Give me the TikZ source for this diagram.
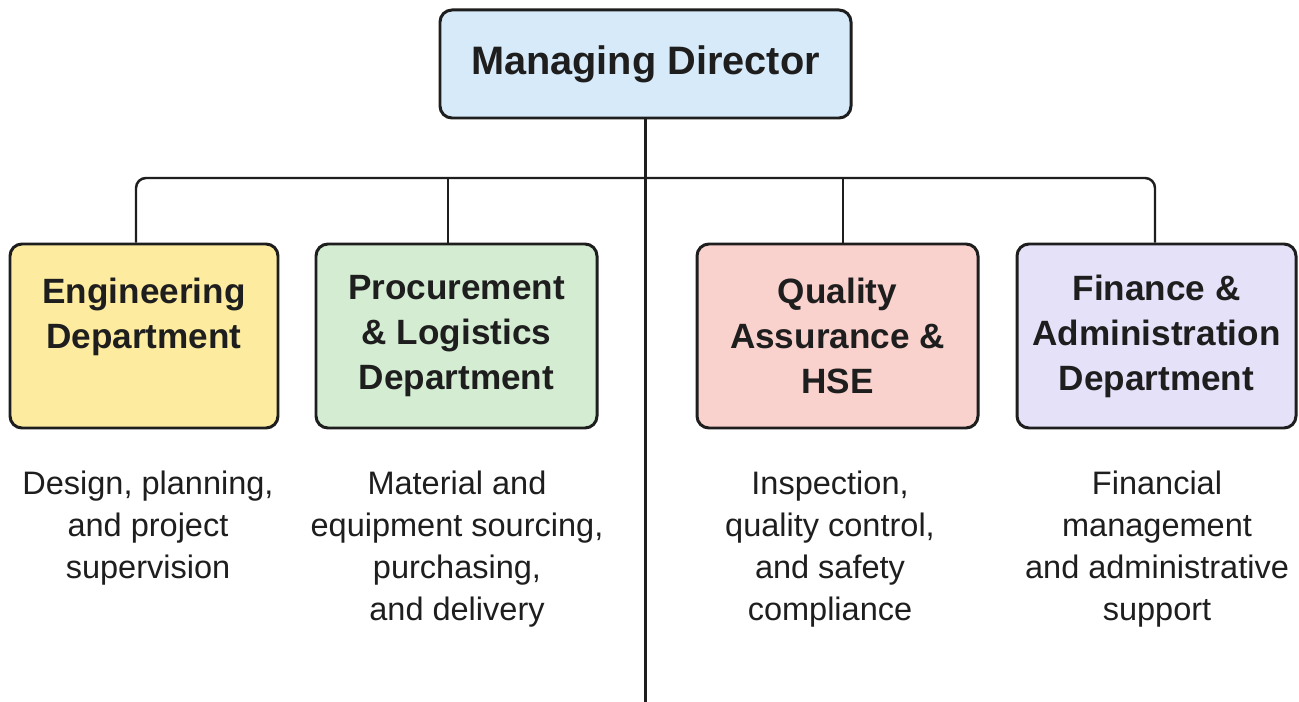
\documentclass[tikz,border=0pt]{standalone}
\usepackage{xcolor}
\usepackage{fontspec}
\setmainfont{Liberation Sans}
\definecolor{mdblue}{HTML}{D7EAF9}
\definecolor{engyellow}{HTML}{FDECA0}
\definecolor{procgreen}{HTML}{D4EDD2}
\definecolor{qapink}{HTML}{F9D1CD}
\definecolor{finlilac}{HTML}{E5E1F8}
\definecolor{ink}{HTML}{1E1E1E}
\begin{document}
\begin{tikzpicture}[
	box/.style={draw=ink, line width=0.85pt, rounded corners=0.12cm, align=center,
		minimum height=1.84cm, inner sep=0pt, text=ink,
		font=\bfseries\fontsize{10}{12.8}\selectfont},
	desc/.style={align=center, anchor=north, inner sep=0pt, text=ink,
		font=\fontsize{9.25}{11.95}\selectfont},
	link/.style={draw=ink, line width=0.7pt}]
	\useasboundingbox (0,0) rectangle (12.99,-7.02);
	\fill[white] (0,0) rectangle (12.99,-7.02);
	%%% top
	\node[box, fill=mdblue, minimum width=4.11cm, minimum height=1.08cm,
		font=\bfseries\fontsize{11.3}{13}\selectfont] (md) at (6.455,-0.64) {Managing Director};
	%%% departments
	\node[box, fill=engyellow, minimum width=2.68cm] (eng) at (1.44,-3.36) {Engineering\\Department\\\phantom{D}};
	\node[box, fill=procgreen, minimum width=2.81cm] (proc) at (4.565,-3.36) {Procurement\\\& Logistics\\Department};
	\node[box, fill=qapink, minimum width=2.81cm] (qa) at (8.375,-3.36) {Quality\\Assurance \&\\HSE};
	\node[box, fill=finlilac, minimum width=2.79cm] (fin) at (11.565,-3.36) {Finance \&\\Administration\\Department};
	%%% what each one does
	\node[desc] (engtxt) at (1.48,-4.70) {Design, planning,\\and project\\supervision};
	\node[desc] (proctxt) at (4.57,-4.70) {Material and\\equipment sourcing,\\purchasing,\\and delivery};
	\node[desc] (qatxt) at (8.30,-4.70) {Inspection,\\quality control,\\and safety\\compliance};
	\node[desc] (fintxt) at (11.57,-4.70) {Financial\\management\\and administrative\\support};
	
	\coordinate (bus) at (6.455,-1.78);
	\coordinate (bottom) at (6.455,-7.02);
	\draw[link] (md.south) -- (bottom);
	\draw[link, rounded corners=0.1cm] ([xshift=-0.08cm]eng.north) |- (bus) -| ([xshift=-0.015cm]fin.north);
	\draw[link] ([xshift=-0.085cm]proc.north) -- ([xshift=-0.085cm]proc.north |- bus);
	\draw[link] ([xshift=0.055cm]qa.north) -- ([xshift=0.055cm]qa.north |- bus);
\end{tikzpicture}
\end{document}
